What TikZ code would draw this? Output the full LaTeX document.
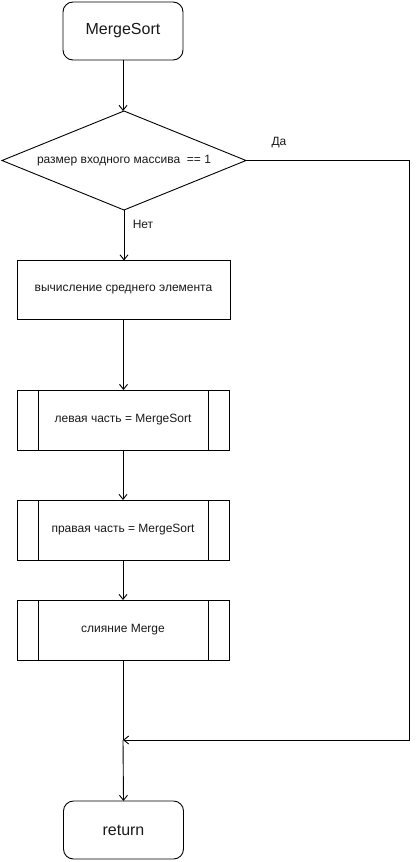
\documentclass[tikz,border=0pt]{standalone}
\usepackage{fontspec}
\setmainfont{Liberation Sans}
\usetikzlibrary{shapes.geometric,arrows.meta,calc}
\begin{document}
\begin{tikzpicture}[x=1pt,y=-1pt,
  every node/.style={inner sep=0pt, outer sep=0pt},
  base/.style={draw=black, line width=0.9pt, text=black!90, font=\fontsize{12}{14}\selectfont},
  term/.style={base, rounded corners=10pt, minimum width=120pt, minimum height=58pt, font=\fontsize{16}{19}\selectfont},
  proc/.style={base, minimum width=213pt, minimum height=59pt},
  predef/.style={base, minimum width=212pt, minimum height=60pt,
    path picture={\draw[line width=0.9pt] ([xshift=21pt]path picture bounding box.north west) -- ([xshift=21pt]path picture bounding box.south west);
                  \draw[line width=0.9pt] ([xshift=-21pt]path picture bounding box.north east) -- ([xshift=-21pt]path picture bounding box.south east);}},
  decis/.style={base, diamond, minimum width=244pt, minimum height=99pt, aspect=2.46},
  lbl/.style={text=black!90, font=\fontsize{12}{14}\selectfont},
  line/.style={draw=black, line width=0.9pt},
  arr/.style={line, -{Straight Barb[length=5pt,width=8pt,line width=0.9pt]}}
]
\useasboundingbox (0,0) rectangle (419,862);
\node[term] (start) at (123,31) {MergeSort};
\node[decis] (dec) at (124,160.5) {размер входного массива\ \ == 1};
\node[proc] (mid) at (123.5,290) {вычисление среднего элемента};
\node[predef] (lft) at (123,420) {левая часть = MergeSort};
\node[predef] (rgt) at (123,530) {правая часть = MergeSort};
\node[predef] (mrg) at (123,630) {слияние Merge};
\node[term] (ret) at (123.5,830) {return};
\node[lbl] (yes) at (279,143) {Да};
\node[lbl] (no) at (143,224) {Нет};
\coordinate (cr) at (409,160.5);
\coordinate (j) at (123,740);

\draw[arr] (start.south) -- (start.south |- dec.north);
\draw[arr] (dec.south) -- (dec.south |- mid.north);
\draw[arr] (mid.south) -- (mid.south |- lft.north);
\draw[arr] (lft.south) -- (rgt.north);
\draw[arr] (rgt.south) -- (mrg.north);
\draw[line] (mrg.south) -- (j);
\draw[arr] (j) -- (ret.north);
\draw[arr] (dec.east) -- (cr) |- (j);
\end{tikzpicture}
\end{document}
